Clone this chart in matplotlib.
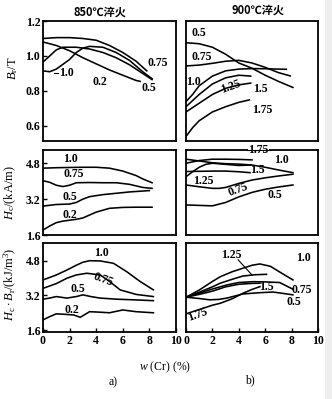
import matplotlib
matplotlib.use("Agg")
import matplotlib.pyplot as plt
from matplotlib.patches import Rectangle

plt.rcParams['font.family'] = ['Liberation Serif', 'Noto Sans CJK SC', 'DejaVu Sans']
plt.rcParams['mathtext.fontset'] = 'custom'
plt.rcParams['mathtext.rm'] = 'Liberation Serif'
plt.rcParams['mathtext.it'] = 'Liberation Serif:italic'

# ---- data: w(Cr) % on x, one curve per carbon content ----
# Br (T), quenched at 850 C
br850 = {
    '0.2':  ([0, 1, 2, 3, 4, 5, 6, 7, 7.3],
             [1.08, 1.06, 1.03, 0.99, 0.955, 0.92, 0.89, 0.86, 0.855]),
    '0.75': ([0, 1, 2, 3, 4, 5, 6, 7, 7.8],
             [1.10, 1.105, 1.105, 1.10, 1.09, 1.06, 1.02, 0.97, 0.915]),
    '0.5':  ([0, 0.5, 1, 1.5, 2.5, 3.5, 4.5, 5.5, 6.5, 7.5, 8.2],
             [0.965, 1.0, 1.035, 1.05, 1.05, 1.04, 1.02, 0.99, 0.95, 0.9, 0.865]),
    '1.0':  ([0, 0.5, 1, 2, 2.5, 3, 3.5, 4.5, 5.5, 6.5, 7.5, 8.2],
             [0.915, 0.91, 0.925, 0.98, 1.02, 1.045, 1.055, 1.05, 1.02, 0.975, 0.91, 0.87]),
}
# Br (T), quenched at 900 C
br900 = {
    '0.5':  ([0, 1, 2, 3, 4, 5, 6, 7, 8.1],
             [1.076, 1.07, 1.05, 1.01, 0.96, 0.93, 0.89, 0.855, 0.82]),
    '0.75': ([0, 1, 2, 3, 4, 5, 6, 7, 7.9],
             [0.943, 0.948, 0.958, 0.97, 0.975, 0.96, 0.935, 0.905, 0.886]),
    '1.0':  ([0, 0.5, 1, 2, 3, 4, 5, 6, 7, 7.6],
             [0.739, 0.78, 0.83, 0.885, 0.915, 0.925, 0.928, 0.927, 0.925, 0.924]),
    '1.25': ([0, 1, 2, 3, 4, 4.9],
             [0.71, 0.78, 0.84, 0.875, 0.89, 0.885]),
    '1.5':  ([0, 1, 2, 3, 4, 4.9],
             [0.68, 0.73, 0.78, 0.815, 0.835, 0.845]),
    '1.75': ([0, 0.5, 1, 2, 3, 4, 4.8],
             [0.54, 0.59, 0.63, 0.68, 0.71, 0.735, 0.749]),
}
# Hc (kA/m), 850 C
hc850 = {
    '1.0':  ([0, 1, 2, 3, 4, 5, 6, 7, 7.5, 8.2],
             [4.58, 4.60, 4.61, 4.62, 4.62, 4.58, 4.45, 4.25, 4.1, 3.93]),
    '0.75': ([0, 0.5, 1, 1.5, 2, 2.5, 3.5, 4.5, 5.5, 6.5, 7.5, 8.2],
             [4.02, 3.95, 3.82, 3.76, 3.82, 3.93, 3.94, 3.93, 3.93, 3.86, 3.72, 3.68]),
    '0.5':  ([0, 1, 2, 2.5, 3, 3.5, 4.5, 5.5, 6.5, 8.0],
             [2.89, 2.96, 2.98, 3.05, 3.2, 3.31, 3.4, 3.46, 3.52, 3.58]),
    '0.2':  ([0, 0.5, 1, 1.5, 2, 2.5, 3, 3.5, 4, 5, 6, 7, 8.2],
             [1.82, 2.0, 2.15, 2.22, 2.26, 2.3, 2.36, 2.49, 2.62, 2.79, 2.83, 2.84, 2.84]),
}
# Hc (kA/m), 900 C
hc900 = {
    '1.0':  ([0, 1, 2, 3, 4, 5, 6, 7, 8.1],
             [4.98, 4.9, 4.82, 4.78, 4.76, 4.72, 4.62, 4.5, 4.38]),
    '1.75': ([0, 1, 2, 3, 4, 5],
             [4.8, 4.92, 4.98, 4.98, 4.97, 4.95]),
    '1.5':  ([0, 1, 2, 3, 4, 4.85],
             [4.43, 4.44, 4.45, 4.45, 4.42, 4.38]),
    '1.25': ([0, 0.5, 1, 1.5, 2, 3, 4, 4.9],
             [4.2, 4.42, 4.62, 4.75, 4.8, 4.75, 4.7, 4.72]),
    '0.75': ([0, 1, 2, 2.5, 3, 4, 5, 6, 7, 8.1],
             [3.83, 3.75, 3.68, 3.68, 3.72, 3.9, 4.05, 4.15, 4.23, 4.31]),
    '0.5':  ([0, 1, 2, 3, 4, 5, 6, 7, 8.1],
             [2.94, 2.92, 2.9, 3.05, 3.3, 3.5, 3.64, 3.74, 3.83]),
}
# Hc*Br (kJ/m3), 850 C
e850 = {
    '1.0':  ([0, 1, 1.8, 2.5, 3, 3.5, 4.3, 5.3, 6.3, 7.3, 8.3],
             [3.92, 4.15, 4.38, 4.6, 4.74, 4.81, 4.8, 4.69, 4.3, 3.85, 3.46]),
    '0.75': ([0, 1, 1.8, 2.5, 3.3, 4.3, 5, 5.8, 7, 8.3],
             [3.53, 3.75, 4.0, 4.15, 4.23, 4.15, 3.85, 3.46, 3.25, 3.15]),
    '0.5':  ([0, 0.5, 1, 1.8, 2.5, 3, 3.6, 4.3, 5.5, 6.8, 8.3],
             [3.03, 3.08, 3.15, 3.08, 3.15, 3.23, 3.15, 3.08, 3.03, 3.0, 2.96]),
    '0.2':  ([0, 0.5, 1, 1.6, 2.3, 2.8, 3.5, 4.2, 5, 6, 7, 8.3],
             [2.07, 2.22, 2.35, 2.33, 2.3, 2.19, 2.45, 2.43, 2.4, 2.53, 2.45, 2.4]),
}
# Hc*Br (kJ/m3), 900 C
e900 = {
    '1.0':  ([0, 1, 2, 2.6, 3.5, 4.3, 5, 5.6, 6.4, 7.2, 8.1],
             [3.12, 3.45, 3.85, 4.07, 4.3, 4.46, 4.6, 4.66, 4.55, 4.25, 3.92]),
    '1.25': ([0, 1, 2, 2.6, 3.5, 4.3, 5.2, 6.1],
             [3.12, 3.35, 3.6, 3.77, 3.95, 4.1, 4.16, 4.18]),
    '1.5':  ([0, 1, 2, 3, 4, 5, 5.6],
             [3.12, 3.25, 3.4, 3.6, 3.72, 3.76, 3.77]),
    '0.75': ([0, 1, 2, 3.1, 4, 5.1, 6, 7.1, 8.1],
             [3.12, 3.3, 3.5, 3.69, 3.8, 3.84, 3.83, 3.8, 3.49]),
    '0.5':  ([0, 1, 1.8, 2.5, 3.1, 4.3, 5.6, 6.6, 7.3, 8.1],
             [3.12, 3.06, 3.0, 3.02, 3.08, 3.27, 3.33, 3.36, 3.3, 3.23]),
    '1.75': ([0, 1, 2, 2.6, 3.5, 4.3, 5, 5.6],
             [2.35, 2.55, 2.75, 2.84, 3.05, 3.3, 3.48, 3.61]),
}

x_ticks = [0, 2, 4, 6, 8, 10]
br_ticks = [0.6, 0.8, 1.0, 1.2]
hc_ticks = [1.6, 3.2, 4.8]

# ---- figure ----
fig = plt.figure(figsize=(3.32, 3.99), dpi=100)
fig.patch.set_facecolor('white')
fig.patches.append(Rectangle((0.979, 0), 0.021, 1, transform=fig.transFigure,
                             facecolor='#eeeeee', edgecolor='none', zorder=0))

W, H = 332.0, 399.0
def box(left, top, right, bottom):
    return [left / W, 1 - bottom / H, (right - left) / W, (bottom - top) / H]

cols = [(43, 176), (186, 318)]
rows = [(21, 141), (150, 235), (243, 332)]
ylims = [(0.514, 1.2), (1.6, 5.39), (1.51, 5.63)]
panels = [[br850, br900], [hc850, hc900], [e850, e900]]
yticks = [br_ticks, hc_ticks, hc_ticks]

fs = 8.5
axes = [[None, None], [None, None], [None, None]]
for r, (top, bot) in enumerate(rows):
    for c, (lft, rgt) in enumerate(cols):
        ax = fig.add_axes(box(lft, top, rgt, bot))
        axes[r][c] = ax
        for name, (xs, ys) in panels[r][c].items():
            ax.plot(xs, ys, color='black', lw=1.15)
        ax.set_xlim(0, 10)
        ax.set_ylim(*ylims[r])
        for s in ax.spines.values():
            s.set_linewidth(1.3)
        ax.tick_params(direction='in', length=3, width=1.0, labelsize=fs,
                       top=False, right=False, pad=2)
        if c == 0:
            ax.set_yticks(yticks[r])
            ax.set_yticklabels([f'{v:.1f}' for v in yticks[r]], fontweight='bold')
        else:
            ax.set_yticks([])
        if r == 2:
            ax.set_xticks(x_ticks)
            ax.set_xticklabels([str(v) for v in x_ticks], fontweight='bold')
        else:
            ax.set_xticks([])

def lab(ax, x, y, s, rot=0, **kw):
    ax.text(x, y, s, fontsize=fs, fontweight='bold', ha='center', va='center',
            rotation=rot, clip_on=False, **kw)

# curve labels
a = axes[0][0]
lab(a, 1.75, 0.90, '1.0'); a.plot([0.85, 1.15], [0.905, 0.905], color='black', lw=0.8)
lab(a, 4.3, 0.853, '0.2'); lab(a, 8.6, 0.958, '0.75'); lab(a, 7.95, 0.815, '0.5')
a = axes[0][1]
lab(a, 0.95, 1.13, '0.5'); lab(a, 1.2, 0.996, '0.75'); lab(a, 0.55, 0.853, '1.0')
lab(a, 3.35, 0.825, '1.25', rot=20); lab(a, 5.6, 0.81, '1.5'); lab(a, 5.75, 0.691, '1.75')
a = axes[1][0]
lab(a, 2.05, 4.98, '1.0'); lab(a, 2.3, 4.31, '0.75'); lab(a, 2.05, 3.31, '0.5'); lab(a, 2.05, 2.49, '0.2')
a = axes[1][1]
lab(a, 5.5, 5.39, '1.75', bbox=dict(facecolor='white', edgecolor='none', pad=0.5), zorder=5)
a.plot([4.6, 6.4], [5.39, 5.39], color='black', lw=0.8, clip_on=False, zorder=6)
lab(a, 7.2, 4.95, '1.0'); lab(a, 5.4, 4.5, '1.5'); lab(a, 1.3, 4.02, '1.25')
lab(a, 3.95, 3.61, '0.75', rot=20); lab(a, 6.75, 3.39, '0.5')
a = axes[2][0]
lab(a, 4.4, 5.18, '1.0'); lab(a, 4.55, 3.95, '0.75', rot=-20); lab(a, 2.65, 3.49, '0.5'); lab(a, 2.15, 2.53, '0.2')
a = axes[2][1]
lab(a, 3.45, 5.08, '1.25'); a.plot([3.95, 5.0], [4.85, 4.15], color='black', lw=0.8)
lab(a, 8.9, 4.92, '1.0'); lab(a, 6.1, 3.61, '1.5'); lab(a, 8.75, 3.46, '0.75')
lab(a, 8.15, 2.92, '0.5'); lab(a, 0.85, 2.3, '1.75', rot=20)

# axis titles
ylab_kw = dict(fontsize=9, rotation=90, ha='center', va='center')
fig.text(13 / W, 1 - 68 / H, r'$B_{\rm r}$/T', **ylab_kw)
fig.text(10 / W, 1 - 193 / H, r'$H_{\rm c}$/(kA/m)', **ylab_kw)
fig.text(10 / W, 1 - 284 / H, r'$H_{\rm c}\cdot B_{\rm r}$/(kJ/m$^3$)', **ylab_kw)

fig.text(100 / W, 1 - 12 / H, '850℃淬火', fontsize=8, fontweight='bold',
         ha='center', va='center', family=['Noto Sans CJK SC'])
fig.text(258 / W, 1 - 10 / H, '900℃淬火', fontsize=8, fontweight='bold',
         ha='center', va='center', family=['Noto Sans CJK SC'])

fig.text(165 / W, 1 - 367 / H, r'$w$ (Cr) (%)', fontsize=fs, ha='center', va='center')
fig.text(113 / W, 1 - 382 / H, 'a)', fontsize=fs, ha='center', va='center')
fig.text(250 / W, 1 - 380 / H, 'b)', fontsize=fs, ha='center', va='center')

fig.savefig('out.png', dpi=100)
